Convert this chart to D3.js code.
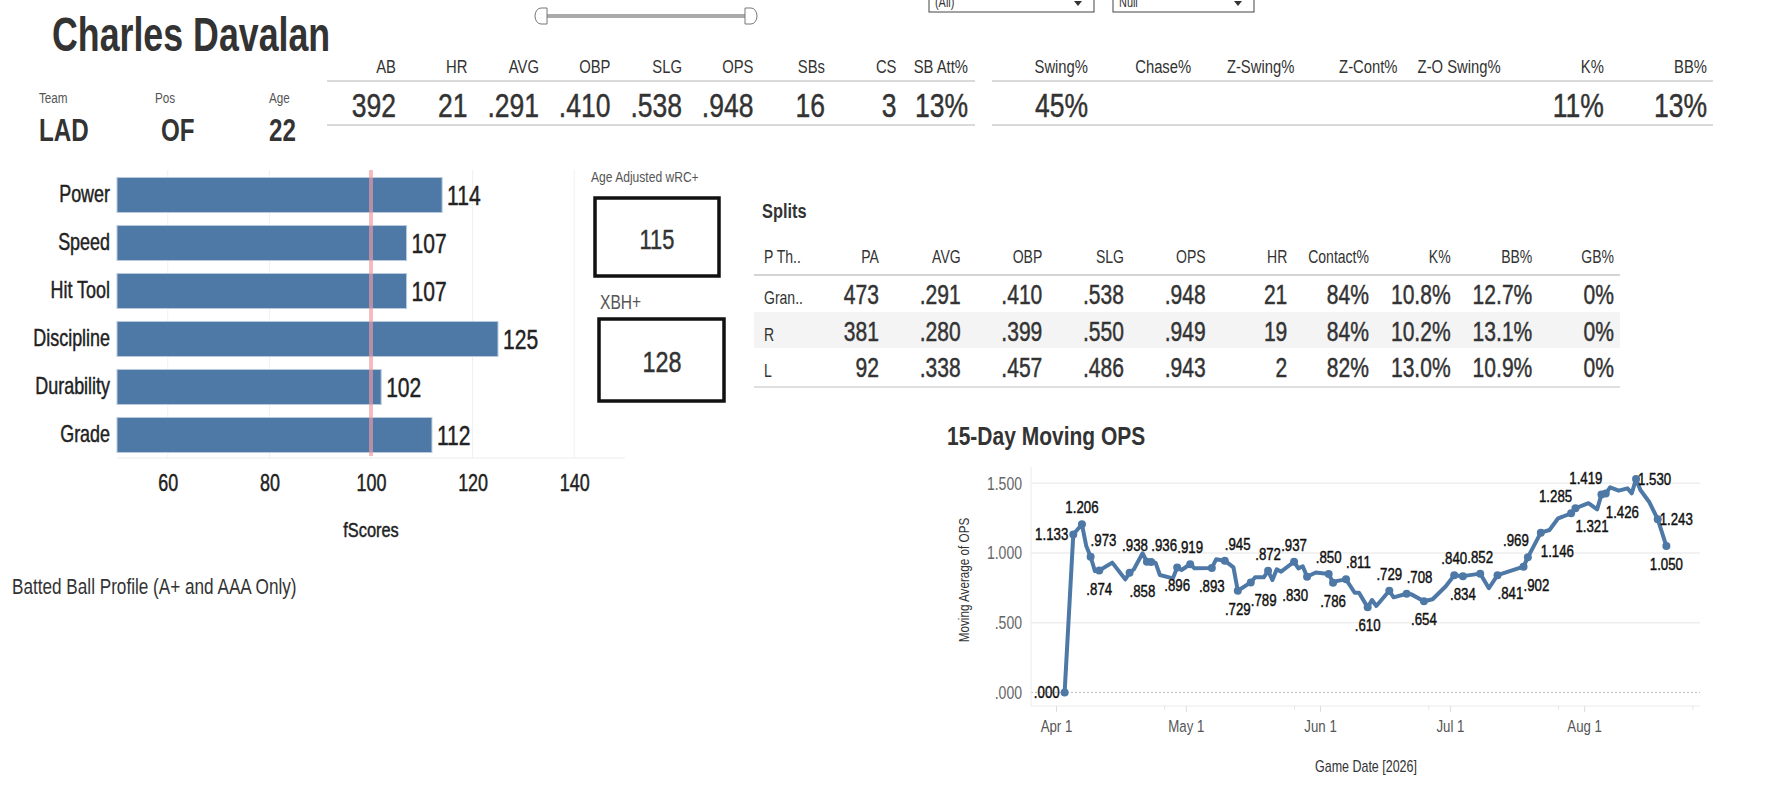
<!DOCTYPE html>
<html lang="en">
<head>
<meta charset="UTF-8">
<title>Charles Davalan</title>
<script src="https://d3js.org/d3.v7.min.js"></script>
<style>
  body { margin: 0; background: #fff; }
  svg text { font-family: 'Liberation Sans', Arial, sans-serif; }
</style>
</head>
<body>
<svg id="dash" width="1778" height="788"></svg>
<script>
// ---- data ----
const playerName = "Charles Davalan";
const bioLabels = ["Team", "Pos", "Age"];
const bioValues = ["LAD", "OF", "22"];

const statLabels = ["AB", "HR", "AVG", "OBP", "SLG", "OPS", "SBs", "CS", "SB Att%"];
const statValues = ["392", "21", ".291", ".410", ".538", ".948", "16", "3", "13%"];
const swingLabels = ["Swing%", "Chase%", "Z-Swing%", "Z-Cont%", "Z-O Swing%", "K%", "BB%"];
const swingValues = ["45%", "", "", "", "", "11%", "13%"];

const toolNames = ["Power", "Speed", "Hit Tool", "Discipline", "Durability", "Grade"];
const toolScores = [114, 107, 107, 125, 102, 112];
const scoreTicks = [60, 80, 100, 120, 140];

const wrcPlus = 115;
const xbhPlus = 128;

const splitCols = ["P Th..", "PA", "AVG", "OBP", "SLG", "OPS", "HR", "Contact%", "K%", "BB%", "GB%"];
const splitRows = [
  ["Gran..", "473", ".291", ".410", ".538", ".948", "21", "84%", "10.8%", "12.7%", "0%"],
  ["R", "381", ".280", ".399", ".550", ".949", "19", "84%", "10.2%", "13.1%", "0%"],
  ["L", "92", ".338", ".457", ".486", ".943", "2", "82%", "13.0%", "10.9%", "0%"]
];

const gameDates = [
  "2026-04-03", "2026-04-05", "2026-04-07", "2026-04-08", "2026-04-09", "2026-04-10", "2026-04-11",
  "2026-04-14", "2026-04-17", "2026-04-18", "2026-04-19", "2026-04-21", "2026-04-22", "2026-04-23",
  "2026-04-24", "2026-04-25", "2026-04-28", "2026-04-29", "2026-04-30", "2026-05-02", "2026-05-03",
  "2026-05-07", "2026-05-08", "2026-05-10", "2026-05-12", "2026-05-13", "2026-05-16", "2026-05-17",
  "2026-05-19", "2026-05-20", "2026-05-21", "2026-05-22", "2026-05-23", "2026-05-26", "2026-05-27",
  "2026-05-28", "2026-05-29", "2026-05-31", "2026-06-03", "2026-06-04", "2026-06-05", "2026-06-07",
  "2026-06-09", "2026-06-10", "2026-06-12", "2026-06-13", "2026-06-14", "2026-06-17", "2026-06-18",
  "2026-06-21", "2026-06-22", "2026-06-25", "2026-06-27", "2026-06-30", "2026-07-02", "2026-07-04",
  "2026-07-08", "2026-07-10", "2026-07-12", "2026-07-18", "2026-07-19", "2026-07-22", "2026-07-24",
  "2026-07-26", "2026-07-27", "2026-07-29", "2026-07-30", "2026-08-02", "2026-08-04", "2026-08-05",
  "2026-08-06", "2026-08-07", "2026-08-09", "2026-08-11", "2026-08-12", "2026-08-13", "2026-08-14",
  "2026-08-16", "2026-08-18", "2026-08-20"
];
const movingOps = [
  0.000, 1.133, 1.206, 1.050, 0.973, 0.870, 0.874,
  0.931, 0.811, 0.858, 0.883, 0.998, 0.938, 0.936,
  0.931, 0.842, 0.818, 0.896, 0.878, 0.919, 0.890,
  0.893, 0.955, 0.945, 0.897, 0.729, 0.789, 0.826,
  0.826, 0.872, 0.806, 0.883, 0.866, 0.937, 0.890,
  0.905, 0.830, 0.860, 0.850, 0.786, 0.800, 0.811,
  0.715, 0.715, 0.610, 0.663, 0.620, 0.729, 0.682,
  0.708, 0.705, 0.654, 0.668, 0.760, 0.840, 0.834,
  0.852, 0.747, 0.841, 0.902, 0.969, 1.146, 1.165,
  1.249, 1.260, 1.285, 1.321, 1.357, 1.313, 1.419,
  1.426, 1.471, 1.447, 1.464, 1.428, 1.530, 1.452,
  1.368, 1.243, 1.050
];
// which side of the mark each label sits on ('' = no label)
const opsLabelSide = [
  "l", "l", "t", "", "tr", "", "b",
  "", "", "br", "", "", "tl", "tr",
  "", "", "", "b", "", "t", "",
  "b", "", "tr", "", "b", "br", "",
  "", "t", "", "", "", "t", "",
  "", "bl", "", "t", "b", "", "tr",
  "", "", "b", "", "", "t", "",
  "tr", "", "b", "", "", "t", "b",
  "t", "", "br", "br", "tl", "br", "",
  "", "", "tl", "br", "", "", "tl",
  "br", "", "", "", "", "r", "",
  "", "r", "b"
];

// ---- drawing ----
const svg = d3.select("#dash");
const blue = "#4e79a7";
const ink = "#333";
const NARROW = 0.78; // squeeze glyphs to mimic the condensed dashboard font
const opsFmt = v => d3.format(".3f")(v).replace(/^0\./, ".");

// squeeze a text horizontally by k, keeping its anchor x in place
const squeeze = (x, k) => `translate(${x * (1 - k)},0) scale(${k},1)`;

// title
svg.append("text")
  .attr("x", 52).attr("y", 51)
  .attr("font-size", 48).attr("font-weight", "bold").attr("fill", ink)
  .attr("transform", squeeze(52, 0.745))
  .text(playerName);

// date slider
const slider = svg.append("g");
slider.append("line")
  .attr("x1", 544).attr("x2", 748).attr("y1", 16).attr("y2", 16)
  .attr("stroke", "#aaa").attr("stroke-width", 4);
slider.append("path").attr("d", "M547,8 L541,8 A6,8 0 0 0 541,24 L547,24 Z")
  .attr("fill", "#fff").attr("stroke", "#777");
slider.append("path").attr("d", "M745,8 L751,8 A6,8 0 0 1 751,24 L745,24 Z")
  .attr("fill", "#fff").attr("stroke", "#777");

// filter dropdowns (cut by the top edge)
[{ x: 929, w: 165, t: "(All)" }, { x: 1113, w: 141, t: "Null" }].forEach(dd => {
  svg.append("rect").attr("x", dd.x).attr("y", -6).attr("width", dd.w).attr("height", 18)
    .attr("fill", "#fff").attr("stroke", "#444");
  svg.append("text").attr("x", dd.x + 6).attr("y", 7).attr("font-size", 14).attr("fill", ink).text(dd.t);
  svg.append("path")
    .attr("d", `M${dd.x + dd.w - 20},1 L${dd.x + dd.w - 12},1 L${dd.x + dd.w - 16},6 Z`)
    .attr("fill", ink);
});

// team / pos / age
const bioX = [39, 155, 269];
bioLabels.forEach((l, i) => {
  svg.append("text").attr("x", bioX[i]).attr("y", 103).attr("font-size", 15).attr("fill", "#555").text(l);
  svg.append("text").attr("x", bioX[i] + (i === 1 ? 6 : 0)).attr("y", 141)
    .attr("font-size", 31).attr("font-weight", "bold").attr("fill", ink).text(bioValues[i]);
});

// headline stat tables
function statTable(labels, values, x0, x1, lineStart, lineEnd) {
  const sx = d3.scalePoint().domain(labels).range([x0, x1]);
  const g = svg.append("g");
  g.selectAll(".h").data(labels).join("text")
    .attr("x", d => sx(d)).attr("y", 73).attr("text-anchor", "end")
    .attr("font-size", 19).attr("fill", ink).text(d => d);
  g.selectAll(".v").data(values).join("text")
    .attr("x", (d, i) => sx(labels[i])).attr("y", 117).attr("text-anchor", "end")
    .attr("font-size", 34).attr("fill", ink).attr("class", "heavy").text(d => d);
  [81, 125].forEach(y => g.append("line")
    .attr("x1", lineStart).attr("x2", lineEnd).attr("y1", y).attr("y2", y)
    .attr("stroke", "#ccc").attr("stroke-width", 1.5));
}
statTable(statLabels, statValues, 396, 968, 327, 975);
statTable(swingLabels, swingValues, 1088, 1707, 992, 1713);

// fScores bars
const xs = d3.scaleLinear().domain([50, 150]).range([117, 625]);
const ys = d3.scaleBand().domain(toolNames).range([171, 459]).paddingInner(0.27).paddingOuter(0.135);
const bars = svg.append("g");

bars.selectAll(".grid").data(scoreTicks).join("line")
  .attr("x1", d => xs(d)).attr("x2", d => xs(d)).attr("y1", 170).attr("y2", 458)
  .attr("stroke", "#f0f0f0");
bars.append("line").attr("x1", xs(50)).attr("x2", xs(150)).attr("y1", 458).attr("y2", 458)
  .attr("stroke", "#ececec");

bars.selectAll(".bar").data(toolNames).join("rect")
  .attr("x", xs(50)).attr("y", d => ys(d))
  .attr("width", (d, i) => xs(toolScores[i]) - xs(50)).attr("height", ys.bandwidth())
  .attr("fill", blue).attr("stroke", "#b9cadd").attr("stroke-width", 1);

bars.append("line").attr("x1", xs(100)).attr("x2", xs(100)).attr("y1", 170).attr("y2", 456)
  .attr("stroke", "#f39aa3").attr("stroke-width", 4).attr("opacity", 0.65);

bars.selectAll(".val").data(toolNames).join("text")
  .attr("x", (d, i) => xs(toolScores[i]) + 5).attr("y", d => ys(d) + ys.bandwidth() / 2 + 10)
  .attr("font-size", 27).attr("fill", "#222").attr("class", "heavy").text((d, i) => toolScores[i]);

bars.append("g").attr("transform", `translate(${xs(50)},0)`)
  .call(d3.axisLeft(ys).tickSize(0).tickPadding(7))
  .call(g => g.select(".domain").remove())
  .selectAll("text").attr("font-size", 23).attr("fill", "#222").attr("class", "heavy");

bars.append("g").attr("transform", "translate(0,458)")
  .call(d3.axisBottom(xs).tickValues(scoreTicks).tickSize(0).tickPadding(17))
  .call(g => g.select(".domain").remove())
  .selectAll("text").attr("font-size", 23).attr("fill", "#222").attr("class", "heavy");

bars.append("text").attr("x", xs(100)).attr("y", 537).attr("text-anchor", "middle")
  .attr("font-size", 21).attr("fill", "#222").attr("class", "heavy").text("fScores");

svg.append("text").attr("x", 12).attr("y", 594).attr("font-size", 22).attr("fill", ink)
  .text("Batted Ball Profile (A+ and AAA Only)");

// wRC+ / XBH+ boxes
svg.append("text").attr("x", 591).attr("y", 182).attr("font-size", 15.5).attr("fill", "#555").text("Age Adjusted wRC+");
svg.append("rect").attr("x", 595).attr("y", 198).attr("width", 124).attr("height", 78)
  .attr("fill", "none").attr("stroke", "#111").attr("stroke-width", 3.5);
svg.append("text").attr("x", 657).attr("y", 249).attr("text-anchor", "middle")
  .attr("font-size", 28).attr("fill", ink).attr("class", "heavy").text(wrcPlus);

svg.append("text").attr("x", 600).attr("y", 309).attr("font-size", 20).attr("fill", "#555").text("XBH+");
svg.append("rect").attr("x", 599).attr("y", 319).attr("width", 125).attr("height", 82)
  .attr("fill", "none").attr("stroke", "#111").attr("stroke-width", 3.5);
svg.append("text").attr("x", 662).attr("y", 372).attr("text-anchor", "middle")
  .attr("font-size", 30).attr("fill", ink).attr("class", "heavy").text(xbhPlus);

// splits table
const splits = svg.append("g");
splits.append("text").attr("x", 762).attr("y", 218).attr("font-size", 21).attr("font-weight", "bold")
  .attr("fill", ink).text("Splits");
const sx = d3.scalePoint().domain(splitCols.slice(1)).range([879, 1614]);
const rowTop = [275, 312, 348];
const rowH = [37, 36, 39];
splits.append("rect").attr("x", 754).attr("y", rowTop[1]).attr("width", 866).attr("height", rowH[1])
  .attr("fill", "#f4f4f4");
splits.selectAll(".hd").data(splitCols).join("text")
  .attr("x", (d, i) => i === 0 ? 764 : sx(d)).attr("y", 263)
  .attr("text-anchor", (d, i) => i === 0 ? "start" : "end")
  .attr("font-size", 18).attr("fill", ink).text(d => d);
splitRows.forEach((row, r) => {
  splits.selectAll(".r" + r).data(row).join("text")
    .attr("x", (d, i) => i === 0 ? 764 : sx(splitCols[i])).attr("y", rowTop[r] + 29)
    .attr("text-anchor", (d, i) => i === 0 ? "start" : "end")
    .attr("class", (d, i) => i === 0 ? null : "heavy")
    .attr("font-size", (d, i) => i === 0 ? 18 : 27).attr("fill", ink).text(d => d);
});
splits.append("line").attr("x1", 754).attr("x2", 1620).attr("y1", 275).attr("y2", 275)
  .attr("stroke", "#d4d4d4").attr("stroke-width", 2);
splits.append("line").attr("x1", 754).attr("x2", 1620).attr("y1", 387).attr("y2", 387)
  .attr("stroke", "#d4d4d4").attr("stroke-width", 1.5);

// 15-day moving OPS
const parse = d3.timeParse("%Y-%m-%d");
const pts = gameDates.map((d, i) => ({ date: parse(d), v: movingOps[i], side: opsLabelSide[i] }));
const xt = d3.scaleTime().domain([parse("2026-03-26"), parse("2026-08-28")]).range([1030, 1701]);
const yo = d3.scaleLinear().domain([0, 1.5]).range([692.4, 483.3]);
const ops = svg.append("g");

ops.append("text").attr("x", 947).attr("y", 445).attr("font-size", 25).attr("font-weight", "bold")
  .attr("fill", ink).attr("transform", squeeze(947, 0.84))
  .text("15-Day Moving OPS");

ops.selectAll(".grid").data([0.5, 1, 1.5]).join("line")
  .attr("x1", 1031).attr("x2", 1700).attr("y1", d => yo(d)).attr("y2", d => yo(d))
  .attr("stroke", "#eeeeee").attr("stroke-width", 1.5);
ops.append("line").attr("x1", 1031).attr("x2", 1700).attr("y1", yo(0)).attr("y2", yo(0))
  .attr("stroke", "#bbb").attr("stroke-dasharray", "2,2");
ops.append("line").attr("x1", 1031).attr("x2", 1031).attr("y1", 467).attr("y2", 706)
  .attr("stroke", "#ececec");
ops.append("line").attr("x1", 1031).attr("x2", 1700).attr("y1", 706).attr("y2", 706)
  .attr("stroke", "#ececec");

ops.append("g").attr("transform", "translate(1031,0)")
  .call(d3.axisLeft(yo).tickValues([0, 0.5, 1, 1.5]).tickFormat(opsFmt).tickSize(0).tickPadding(9))
  .call(g => g.select(".domain").remove())
  .selectAll("text").attr("font-size", 18).attr("fill", "#666");

ops.append("g").attr("transform", "translate(0,706)")
  .call(d3.axisBottom(xt).ticks(d3.timeMonth.every(1)).tickFormat(d3.timeFormat("%b %-d"))
    .tickSize(6).tickPadding(8))
  .call(g => g.select(".domain").remove())
  .call(g => g.selectAll("line").attr("stroke", "#ddd"))
  .selectAll("text").attr("font-size", 17).attr("fill", "#555");

ops.append("g").attr("transform", "translate(0,706)")
  .call(d3.axisBottom(xt).tickValues(["2026-04-26", "2026-05-26", "2026-06-26", "2026-07-26", "2026-08-26"].map(parse))
    .tickSize(4).tickFormat(""))
  .call(g => g.select(".domain").remove())
  .call(g => g.selectAll("line").attr("stroke", "#e6e6e6"));

ops.append("text").attr("x", 1366).attr("y", 772).attr("text-anchor", "middle")
  .attr("font-size", 16).attr("fill", ink).text("Game Date [2026]");
ops.append("text").attr("transform", `translate(969,580) rotate(-90) scale(${NARROW},1)`)
  .attr("text-anchor", "middle")
  .attr("font-size", 15).attr("fill", ink).text("Moving Average of OPS");

ops.append("path").datum(pts)
  .attr("d", d3.line().x(d => xt(d.date)).y(d => yo(d.v)))
  .attr("fill", "none").attr("stroke", blue).attr("stroke-width", 4)
  .attr("stroke-linejoin", "round").attr("stroke-linecap", "round");

const labelled = pts.filter(d => d.side);
ops.selectAll(".dot").data(labelled).join("circle")
  .attr("cx", d => xt(d.date)).attr("cy", d => yo(d.v)).attr("r", 4).attr("fill", blue);

const place = {
  t: { dx: 0, dy: -11, a: "middle" }, b: { dx: 0, dy: 24, a: "middle" },
  tr: { dx: 0, dy: -11, a: "start" }, tl: { dx: 1, dy: -11, a: "end" },
  br: { dx: 0, dy: 24, a: "start" }, bl: { dx: 1, dy: 24, a: "end" },
  l: { dx: -5, dy: 6, a: "end" }, r: { dx: 2, dy: 6, a: "start" }
};
ops.selectAll(".lbl").data(labelled).join("text")
  .attr("x", d => xt(d.date) + place[d.side].dx).attr("y", d => yo(d.v) + place[d.side].dy)
  .attr("text-anchor", d => place[d.side].a)
  .attr("font-size", 17).attr("fill", "#111").attr("class", "heavy").text(d => opsFmt(d.v));

// thicken the number-heavy texts a little, like the medium-weight source font
svg.selectAll("text.heavy")
  .attr("stroke", function () { return this.getAttribute("fill"); })
  .attr("stroke-width", 0.45);

// squeeze every other plain text horizontally around its own anchor point
svg.selectAll("text")
  .filter(function () { return !this.hasAttribute("transform"); })
  .attr("transform", function () { return squeeze(+this.getAttribute("x") || 0, NARROW); });
</script>
</body>
</html>
